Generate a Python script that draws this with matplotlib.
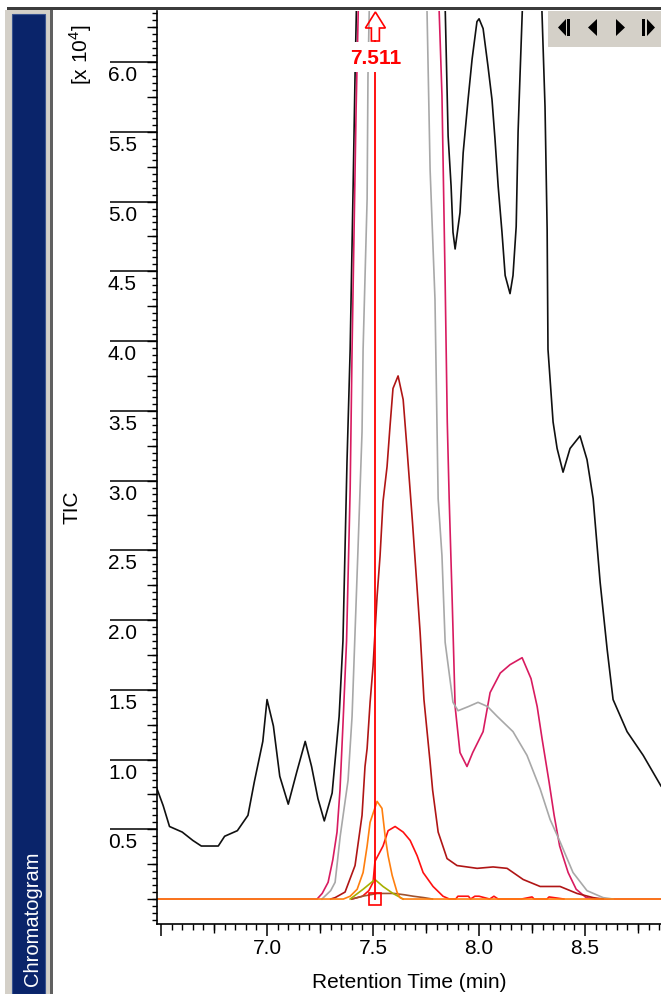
import numpy as np
import matplotlib
matplotlib.use('Agg')
import matplotlib.pyplot as plt
from matplotlib.patches import Rectangle, Polygon
from matplotlib.transforms import IdentityTransform, offset_copy, blended_transform_factory

plt.rcParams['font.family'] = ['Liberation Sans', 'DejaVu Sans']
plt.rcParams['mathtext.fontset'] = 'custom'
plt.rcParams['mathtext.rm'] = 'Liberation Sans'

# Retention time (min) / intensity (x10^4) for every trace
tic_t = [6.481, 6.51, 6.54, 6.60, 6.65, 6.69, 6.73, 6.77, 6.80, 6.86, 6.91, 6.94, 6.98,
         7.00, 7.03, 7.06, 7.10, 7.14, 7.18, 7.21, 7.24, 7.27, 7.307, 7.34, 7.358, 7.377,
         7.392, 7.406, 7.415, 7.45, 7.55, 7.65, 7.75, 7.82, 7.840, 7.854, 7.868, 7.877,
         7.887, 7.910, 7.925, 7.948, 7.967, 7.99, 8.00, 8.019, 8.042, 8.061, 8.075, 8.090,
         8.108, 8.123, 8.146, 8.160, 8.175, 8.184, 8.193, 8.203, 8.23, 8.26, 8.28, 8.297,
         8.311, 8.321, 8.325, 8.349, 8.368, 8.396, 8.429, 8.476, 8.509, 8.538, 8.571,
         8.604, 8.632, 8.698, 8.774, 8.858]
tic_v = [0.79, 0.67, 0.52, 0.48, 0.42, 0.38, 0.38, 0.38, 0.45, 0.49, 0.60, 0.84, 1.13,
         1.43, 1.24, 0.88, 0.68, 0.91, 1.13, 0.95, 0.72, 0.56, 0.76, 1.31, 1.85, 3.13,
         3.94, 5.11, 5.90, 8.5, 10.5, 11.0, 9.5, 7.2, 6.40, 5.47, 5.11, 4.78,
         4.66, 4.92, 5.35, 5.73, 6.02, 6.29, 6.31, 6.24, 5.97, 5.73, 5.45, 5.11,
         4.78, 4.47, 4.34, 4.47, 4.82, 5.50, 5.90, 6.33, 7.5, 8.0, 7.3, 6.34,
         5.68, 4.80, 3.94, 3.42, 3.23, 3.06, 3.23, 3.32, 3.15, 2.87, 2.27,
         1.79, 1.43, 1.20, 1.03, 0.81]

crim_t = [6.481, 7.236, 7.26, 7.288, 7.31, 7.330, 7.344, 7.358, 7.375, 7.392, 7.401,
          7.420, 7.432, 7.55, 7.65, 7.75, 7.80, 7.825, 7.840, 7.850, 7.859, 7.873,
          7.887, 7.91, 7.943, 7.97, 8.019, 8.052, 8.10, 8.146, 8.203, 8.245, 8.274,
          8.297, 8.330, 8.354, 8.38, 8.420, 8.458, 8.505, 8.55, 8.858]
crim_v = [0.0, 0.0, 0.04, 0.12, 0.28, 0.48, 0.78, 1.25, 1.85, 2.94, 3.94,
          5.66, 6.5, 11.0, 12.0, 10.0, 6.9, 5.76, 4.42, 3.42, 2.87, 2.15,
          1.38, 1.05, 0.95, 1.05, 1.20, 1.48, 1.62, 1.68, 1.73, 1.58, 1.38,
          1.15, 0.84, 0.60, 0.38, 0.19, 0.07, 0.01, 0.0, 0.0]

gray_t = [7.259, 7.30, 7.321, 7.345, 7.382, 7.401, 7.429, 7.448, 7.453, 7.472, 7.476,
          7.49, 7.55, 7.65, 7.74, 7.769, 7.792, 7.807, 7.825, 7.840, 7.877, 7.901,
          7.95, 7.995, 8.04, 8.085, 8.160, 8.226, 8.288, 8.335, 8.382, 8.443, 8.509,
          8.585, 8.632]
gray_v = [0.0, 0.06, 0.12, 0.45, 0.85, 1.31, 2.51, 3.35, 3.94, 5.02, 5.90,
          7.0, 9.0, 10.0, 7.5, 5.23, 4.30, 2.87, 2.46, 1.84, 1.41, 1.35,
          1.38, 1.41, 1.38, 1.31, 1.20, 1.03, 0.79, 0.57, 0.41, 0.19, 0.06,
          0.01, 0.0]

dred_t = [7.30, 7.321, 7.368, 7.415, 7.448, 7.462, 7.472, 7.486, 7.50, 7.519, 7.533,
          7.547, 7.566, 7.580, 7.594, 7.618, 7.642, 7.660, 7.686, 7.708, 7.722, 7.740,
          7.769, 7.781, 7.807, 7.849, 7.896, 7.991, 8.066, 8.132, 8.208, 8.288, 8.382,
          8.462, 8.538, 8.585]
dred_v = [0.0, 0.01, 0.05, 0.24, 0.60, 0.95, 1.08, 1.41, 1.67, 2.17, 2.46,
          2.85, 3.10, 3.39, 3.66, 3.75, 3.58, 3.23, 2.70, 2.22, 1.91, 1.43,
          0.98, 0.78, 0.48, 0.29, 0.24, 0.22, 0.23, 0.22, 0.14, 0.09, 0.09,
          0.04, 0.01, 0.0]

red_t = [7.40, 7.45, 7.48, 7.50, 7.509, 7.547, 7.571, 7.604, 7.642, 7.675, 7.708,
         7.736, 7.783, 7.830, 7.86, 7.89, 7.90, 7.95, 7.96, 7.98, 8.00, 8.05,
         8.07, 8.09, 8.20, 8.25, 8.26, 8.32, 8.33, 8.40]
red_v = [0.0, 0.02, 0.06, 0.12, 0.27, 0.38, 0.49, 0.52, 0.48, 0.42, 0.31,
         0.19, 0.09, 0.02, 0.0, 0.0, 0.02, 0.02, 0.0, 0.02, 0.02, 0.0,
         0.02, 0.0, 0.0, 0.015, 0.0, 0.0, 0.015, 0.0]

brown_t = [7.40, 7.45, 7.52, 7.60, 7.65, 7.69, 7.74, 7.78]
brown_v = [0.0, 0.02, 0.04, 0.04, 0.03, 0.02, 0.01, 0.0]

olive_t = [7.392, 7.453, 7.509, 7.547, 7.594, 7.642]
olive_v = [0.0, 0.07, 0.14, 0.09, 0.04, 0.0]

orange_t = [6.481, 7.36, 7.392, 7.425, 7.453, 7.472, 7.486, 7.519, 7.542, 7.557,
            7.571, 7.590, 7.613, 7.627, 7.64, 8.858]
orange_v = [0.0, 0.0, 0.02, 0.07, 0.19, 0.38, 0.55, 0.70, 0.65, 0.45,
            0.31, 0.17, 0.05, 0.01, 0.0, 0.0]

marker_t = 7.511
marker_label = '7.511'

y_major = [0.5, 1.0, 1.5, 2.0, 2.5, 3.0, 3.5, 4.0, 4.5, 5.0, 5.5, 6.0]
y_labels = ['0.5', '1.0', '1.5', '2.0', '2.5', '3.0', '3.5', '4.0', '4.5', '5.0', '5.5', '6.0']
x_major = [6.5, 7.0, 7.5, 8.0, 8.5]
x_labels = ['', '7.0', '7.5', '8.0', '8.5']

W, H = 661, 995
fig = plt.figure(figsize=(W / 100, H / 100), dpi=100)
fig.patch.set_facecolor('white')


def fx(x):
    return x / W


def fy(y):
    return 1 - y / H


# window chrome
fig.add_artist(Rectangle((fx(5), 0), fx(50) - fx(5), fy(11), transform=fig.transFigure,
                         facecolor='#D4D0C8', edgecolor='none', zorder=0))
fig.add_artist(Rectangle((fx(12), 0), fx(45) - fx(12), fy(15), transform=fig.transFigure,
                         facecolor='#0A246A', edgecolor='#3A5490', linewidth=0.8, zorder=1))
fig.add_artist(Rectangle((fx(50), 0), fx(53) - fx(50), fy(11), transform=fig.transFigure,
                         facecolor='#606060', edgecolor='none', zorder=1))
fig.add_artist(Rectangle((fx(7), fy(11)), 1 - fx(7), fy(8) - fy(11), transform=fig.transFigure,
                         facecolor='#3C3C3C', edgecolor='none', zorder=5))
fig.text(fx(38), fy(852), 'Chromatogram', rotation=90, rotation_mode='anchor',
         ha='right', va='baseline', color='white', fontsize=14.5)

ax = fig.add_axes([fx(157), fy(925), fx(661) - fx(157), fy(12) - fy(925)])
ax.set_facecolor('white')

lw = 1.2
ax.plot(tic_t, tic_v, color='#101010', lw=lw)
ax.plot(crim_t, crim_v, color='#D81B60', lw=lw)
ax.plot(gray_t, gray_v, color='#A8A8A8', lw=lw)
ax.plot(dred_t, dred_v, color='#B01515', lw=lw)
ax.plot(red_t, red_v, color='#FF1010', lw=lw)
ax.plot(brown_t, brown_v, color='#A0522D', lw=lw)
ax.plot(olive_t, olive_v, color='#A8B000', lw=lw)
ax.plot(orange_t, orange_v, color='#FF7F0E', lw=lw)

ax.set_xlim(6.481, 8.858)
ax.set_ylim(-0.179, 6.366)

for s in ['top', 'right']:
    ax.spines[s].set_visible(False)
for s in ['left', 'bottom']:
    ax.spines[s].set_linewidth(1.2)
    ax.spines[s].set_color('black')

# y ticks: long majors with labels below the line, medium every 0.25, minor every 0.05
ax.set_yticks(y_major)
ax.set_yticks(np.arange(-0.15, 6.36, 0.05), minor=True)
ax.tick_params(axis='y', which='major', length=33.8, width=1.1, labelleft=False)
ax.tick_params(axis='y', which='minor', length=3.6, width=1.0)
trans_y = offset_copy(blended_transform_factory(ax.transAxes, ax.transData), fig=fig,
                      x=0, y=-3, units='dots')
for v, lab in zip(y_major, y_labels):
    ax.text(-20 / 504, v, lab, transform=trans_y, ha='right', va='top', fontsize=15)
sec_y = ax.secondary_yaxis('left')
sec_y.set_yticks(np.arange(0, 6.3, 0.25))
sec_y.tick_params(length=7.2, width=1.0, labelleft=False)
sec_y.spines['left'].set_visible(False)

# x ticks
ax.set_xticks(x_major)
ax.set_xticklabels(x_labels, fontsize=15)
ax.set_xticks(np.arange(6.5, 8.86, 0.05), minor=True)
ax.tick_params(axis='x', which='major', length=8.6, width=1.1, pad=1.5)
ax.tick_params(axis='x', which='minor', length=4.3, width=1.0)
sec_x = ax.secondary_xaxis('bottom')
sec_x.set_xticks(np.arange(6.75, 8.86, 0.5))
sec_x.tick_params(length=6.8, width=1.0, labelbottom=False)
sec_x.spines['bottom'].set_visible(False)

fig.text(fx(409), fy(988), 'Retention Time (min)', ha='center', va='baseline', fontsize=15)
fig.text(fx(78), fy(507), 'TIC', rotation=90, rotation_mode='anchor',
         ha='center', va='baseline', fontsize=15)
fig.text(fx(88), fy(55), '[x 10$^{4}$]', rotation=90, rotation_mode='anchor',
         ha='center', va='baseline', fontsize=15)

# cursor marker at 7.511
y0_frac = (0 - (-0.179)) / (6.366 + 0.179)
ax.axvline(marker_t, ymin=y0_frac, ymax=(925 - 42) / 913, color='#FF0000', lw=1.3, zorder=6)
ax.plot([marker_t], [0], 's', mfc='none', mec='#FF0000', mew=1.2, ms=8.6, zorder=7, clip_on=False)
ax.text(marker_t, (925 - 58) / 913, marker_label, transform=blended_transform_factory(ax.transData, ax.transAxes),
        ha='center', va='center', color='#FF0000', fontsize=15, fontweight='bold', zorder=8,
        bbox=dict(facecolor='white', edgecolor='none', pad=4))

mx = ax.transData.transform((marker_t, 0))[0]
arrow_px = [(0, 13), (10, 29), (4, 29), (4, 42), (-4, 42), (-4, 29), (-10, 29)]
arrow = Polygon([(mx + dx, H - py) for dx, py in arrow_px], closed=True, transform=IdentityTransform(),
                facecolor='none', edgecolor='#FF0000', linewidth=1.2, zorder=9)
fig.add_artist(arrow)

# navigation button panel
fig.add_artist(Rectangle((fx(548), fy(48)), 1 - fx(548), fy(12) - fy(48), transform=fig.transFigure,
                         facecolor='#D4D0C8', edgecolor='none', zorder=10))
glyphs = [
    [(558, 28.5), (566, 20), (566, 37)],
    [(588, 28.5), (597, 20), (597, 37)],
    [(625, 28.5), (616, 20), (616, 37)],
    [(655, 28.5), (647, 20), (647, 37)],
]
for g in glyphs:
    fig.add_artist(Polygon([(x, H - y) for x, y in g], closed=True, transform=IdentityTransform(),
                           facecolor='black', edgecolor='none', zorder=11))
for bx in [567, 642]:
    fig.add_artist(Rectangle((bx, H - 37), 3, 17, transform=IdentityTransform(),
                             facecolor='black', edgecolor='none', zorder=11))

fig.savefig('out.png', dpi=100)
